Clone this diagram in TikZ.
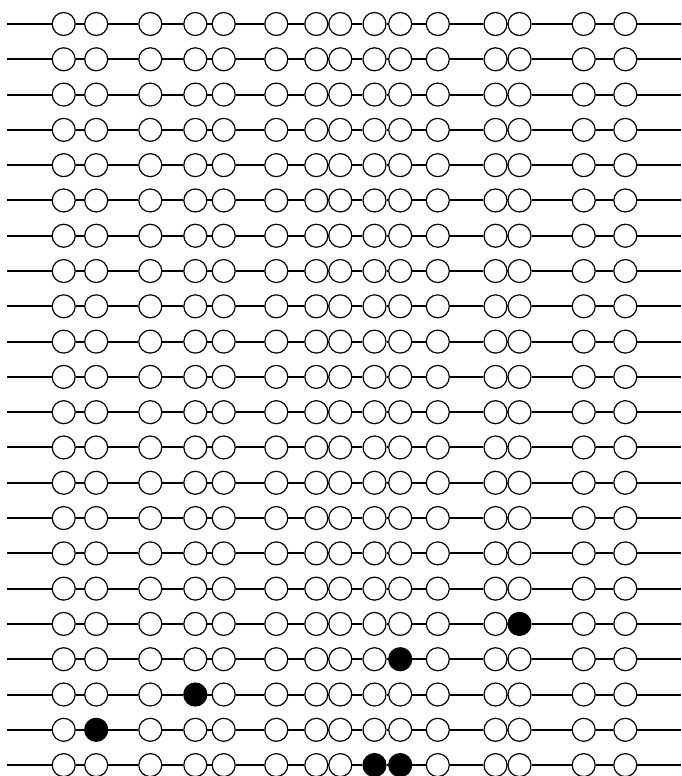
\documentclass[tikz,border=0pt]{standalone}
\usetikzlibrary{positioning}
\tikzset{
  bead/.style={draw,circle,fill=white,minimum size=23pt,inner sep=0pt,line width=1.2pt},
  wire/.style={line width=2pt},
  % filled beads
  f17-13/.style={fill=black},
  f18-10/.style={fill=black},
  f19-4/.style={fill=black},
  f20-2/.style={fill=black},
  f21-9/.style={fill=black},
  f21-10/.style={fill=black},
}
\begin{document}
\begin{tikzpicture}[x=1pt,y=-1pt]
  \useasboundingbox (0,0) rectangle (681,776);
  \foreach \r [evaluate=\r as \y using 24+35.29*\r] in {0,...,21}{
    \coordinate (w\r-0) at (7,\y);
    \coordinate (w\r-16) at (681,\y);
    \foreach \x [count=\i] in {63.7,96.2,150.3,195.3,223.7,276.3,316.3,340.3,374.5,400.2,437.8,495.5,519.5,583.7,625.3}
      \node[bead,f\r-\i/.try] (w\r-\i) at (\x,\y) {};
    \foreach \i [count=\j from 0] in {1,...,16}
      \draw[wire] (w\r-\j) -- (w\r-\i);
  }
\end{tikzpicture}
\end{document}
